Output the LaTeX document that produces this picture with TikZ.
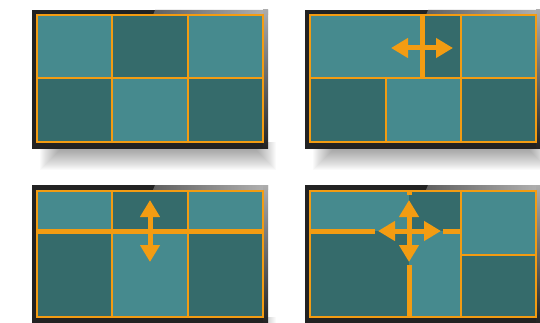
\documentclass[tikz,border=0pt]{standalone}
\usepackage{tikz}
\usetikzlibrary{arrows.meta}
\definecolor{tealL}{HTML}{468A8E}
\definecolor{tealD}{HTML}{356B6B}
\definecolor{amber}{HTML}{F39C12}
\definecolor{bezel}{HTML}{222222}

% screen bezel with its soft shadow, local coordinates
\newcommand{\tvframe}{%
  \foreach \s in {0,...,19} \fill[black,opacity=.018] (8+\s,132) rectangle (244-\s,160-\s);
  \fill[bezel] (0,0) rectangle (236,139);
  \shade[left color=gray!75!black,right color=gray!60] (123,0)--(236,0)--(236,5)--(121,5)--cycle;
  \shade[top color=gray!65,bottom color=bezel] (231,0) rectangle (236,139);
}

\begin{document}
\begin{tikzpicture}[x=1pt,y=-1pt,
  grid/.style={amber,line width=1.5pt},
  split/.style={amber,line width=5pt},
  move/.style={amber,line width=5pt,{Triangle[width=19pt,length=17pt]}-{Triangle[width=19pt,length=17pt]}}]
\useasboundingbox (0,0) rectangle (540,323);

% 2x3 layout
\begin{scope}[shift={(32,10)}]
\tvframe
\foreach \xa/\ya/\xb/\yb/\c in {5/5/80/68/tealL,80/5/156/68/tealD,156/5/231/68/tealL,
  5/68/80/132/tealD,80/68/156/132/tealL,156/68/231/132/tealD}
  \fill[\c] (\xa,\ya) rectangle (\xb,\yb);
\draw[grid] (5,5) rectangle (231,132);
\draw[grid] (80,5)--(80,132) (156,5)--(156,132) (5,68)--(231,68);
\end{scope}

% vertical splitter moved
\begin{scope}[shift={(305,10)}]
\tvframe
\foreach \xa/\ya/\xb/\yb/\c in {5/5/117/68/tealL,117/5/156/68/tealD,156/5/231/68/tealL,
  5/68/81/132/tealD,81/68/156/132/tealL,156/68/231/132/tealD}
  \fill[\c] (\xa,\ya) rectangle (\xb,\yb);
\draw[grid] (5,5) rectangle (231,132);
\draw[grid] (156,5)--(156,132) (81,68)--(81,132) (5,68)--(231,68);
\draw[split] (117,5)--(117,68);
\draw[move] (86,38)--(148,38);
\end{scope}

% horizontal splitter moved
\begin{scope}[shift={(32,185)}]
\tvframe
\foreach \xa/\ya/\xb/\yb/\c in {5/6/80/46/tealL,80/6/156/46/tealD,156/6/231/46/tealL,
  5/46/80/132/tealD,80/46/156/132/tealL,156/46/231/132/tealD}
  \fill[\c] (\xa,\ya) rectangle (\xb,\yb);
\draw[grid] (5,6) rectangle (231,132);
\draw[grid] (80,6)--(80,132) (156,6)--(156,132);
\draw[split] (5,46)--(231,46);
\draw[move] (118,15)--(118,77);
\end{scope}

% both splitters moved
\begin{scope}[shift={(305,185)}]
\tvframe
\foreach \xa/\ya/\xb/\yb/\c in {5/6/104/46/tealL,104/6/156/46/tealD,5/46/104/132/tealD,
  104/46/156/132/tealL,156/6/231/70/tealL,156/70/231/132/tealD}
  \fill[\c] (\xa,\ya) rectangle (\xb,\yb);
\draw[grid] (5,6) rectangle (231,132);
\draw[grid] (156,6)--(156,132) (156,70)--(231,70);
\draw[split] (5,46)--(70,46) (138,46)--(156,46) (104,6)--(104,10) (104,80)--(104,132);
\draw[move] (73,46)--(136,46);
\draw[move] (104,15)--(104,77);
\end{scope}
\end{tikzpicture}
\end{document}
